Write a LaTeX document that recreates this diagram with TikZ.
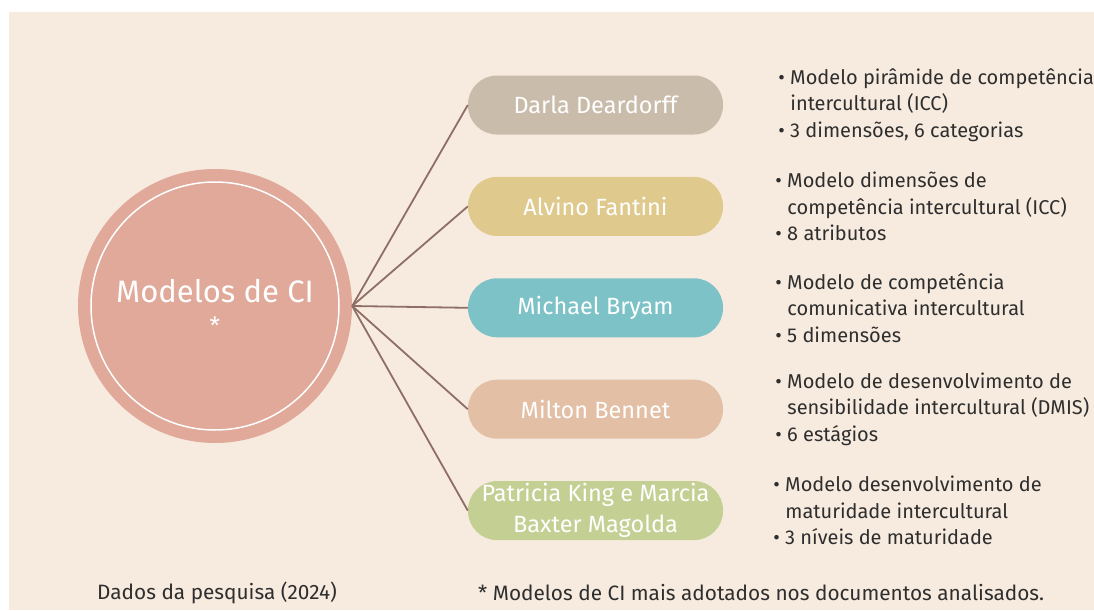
\documentclass[tikz,border=0pt]{standalone}
\usepackage{fontspec}
\setmainfont{Fira Sans}
\usetikzlibrary{positioning}
\definecolor{bgbeige}{HTML}{F7EBDF}
\definecolor{hubpink}{HTML}{E0A99A}
\definecolor{pilldarla}{HTML}{CABCAA}
\definecolor{pillalvino}{HTML}{DFC98D}
\definecolor{pillmichael}{HTML}{7CC2C7}
\definecolor{pillmilton}{HTML}{E2BFA5}
\definecolor{pillpatricia}{HTML}{C4CF94}
\definecolor{linkbrown}{HTML}{8E6E66}
\definecolor{notegray}{HTML}{2E2E2E}
\tikzset{
  hub/.style={shape=circle,minimum size=274pt,fill=hubpink,text=white,align=center,font=\fontsize{31}{34}\selectfont},
  ring/.style={draw=white,line width=1.5pt},
  pill/.style={rounded corners=29pt,minimum width=255pt,minimum height=59pt,inner sep=0pt,text=white,align=center,font=\fontsize{23.5}{31}\selectfont},
  link/.style={draw=linkbrown,line width=1.8pt},
  note/.style={anchor=west,inner sep=0pt,align=left,text=notegray,font=\fontsize{20}{26.5}\selectfont},
  foot/.style={anchor=west,inner sep=0pt,text=notegray,font=\fontsize{20.8}{24}\selectfont}
}

\begin{document}
\begin{tikzpicture}[x=1pt,y=-1pt,node distance=42pt and 55pt]
  \fill[white] (0,0) rectangle (1094,610);
  \fill[bgbeige] (9,12) rectangle (1094,610);
  \useasboundingbox (0,0) rectangle (1094,610);
  \node[hub] (hub) at (215,306) {};
  \node[text=white,font=\fontsize{31}{34}\selectfont] (hubtitle) at (215,291) {Modelos de CI};
  \node[text=white,font=\fontsize{24}{24}\selectfont] (hubstar) at (215,326) {*};
  \draw[ring] (hub.center) circle[radius=124pt];
  \node[pill,fill=pilldarla] (darla) at (595.5,105) {Darla Deardorff};
  \node[pill,fill=pillalvino,below=of darla] (alvino) {Alvino Fantini};
  \node[pill,fill=pillmichael,below=of alvino] (michael) {Michael Bryam};
  \node[pill,fill=pillmilton,below=of michael] (milton) {Milton Bennet};
  \node[pill,fill=pillpatricia,below=of milton] (patricia) {Patricia King e Marcia\\Baxter Magolda};
  \foreach \p in {darla,alvino,michael,milton,patricia}
    \draw[link] (hub.east) -- (\p.west);
  % notes
  \node[note,right=of darla] (darlanote) {• Modelo pirâmide de competência\\\hspace*{12pt}intercultural (ICC)\\• 3 dimensões, 6 categorias};
  \node[note,right=52pt of alvino] (alvinonote) {• Modelo dimensões de\\\hspace*{12pt}competência intercultural (ICC)\\• 8 atributos};
  \node[note,right=52pt of michael] (michaelnote) {• Modelo de competência\\\hspace*{12pt}comunicativa intercultural\\• 5 dimensões};
  \node[note,right=52pt of milton] (miltonnote) {• Modelo de desenvolvimento de\\\hspace*{12pt}sensibilidade intercultural (DMIS)\\• 6 estágios};
  \node[note,right=50pt of patricia] (patricianote) {• Modelo desenvolvimento de\\\hspace*{12pt}maturidade intercultural\\• 3 níveis de maturidade};
  \node[foot] (source) at (97,593) {Dados da pesquisa (2024)};
  \node[foot] (asterisk) at (478,593) {* Modelos de CI mais adotados nos documentos analisados.};
\end{tikzpicture}
\end{document}
